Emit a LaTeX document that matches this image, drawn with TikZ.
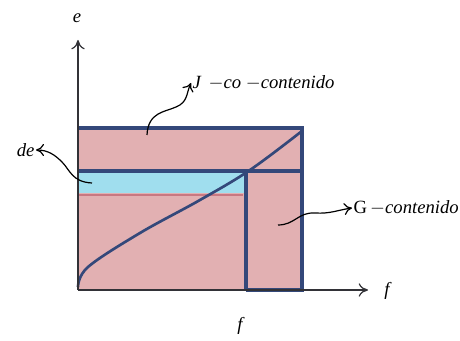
\documentclass[tikz,border=0pt]{standalone}
\usepackage{fontspec}
\setmainfont{Liberation Serif}
\usetikzlibrary{arrows.meta}
\definecolor{pinkfill}{RGB}{226,176,178}
\definecolor{bluefill}{RGB}{160,222,238}
\definecolor{navy}{RGB}{52,72,122}
\definecolor{axisgray}{RGB}{50,50,55}
\tikzset{
  axis/.style={draw=axisgray, line width=0.9pt, -{To[length=7pt,width=10pt]}},
  frame/.style={draw=navy, line width=2.4pt},
  pointer/.style={draw=black, line width=0.9pt, -{To[length=6pt,width=9pt]}},
  lbl/.style={font=\itshape\fontsize{14}{16}\selectfont, inner sep=1pt}
}
\begin{document}
\begin{tikzpicture}[x=0.75pt,y=-0.75pt]
\useasboundingbox (0,0) rectangle (460,341);
% fills
\fill[pinkfill] (78,128) rectangle (302,290);
\fill[bluefill] (78,171) rectangle (246,193);
\draw[draw={rgb,255:red,200;green,120;blue,130}, line width=0.9pt] (78,195) -- (243,195);
% frame
\draw[frame] (78,128) -- (302,128) -- (302,290) -- (246,290);
\draw[frame] (78,171) -- (302,171);
\draw[frame, line width=3pt] (246,171) -- (246,290);
% curve
\draw[navy, line width=2pt] plot[smooth, tension=0.6] coordinates {(78,287) (88,267) (140,233) (200,200) (250,170) (302,131)};
% axes
\coordinate (O) at (78,290);
\coordinate (ytop) at (78,40);
\coordinate (xend) at (368,290);
\draw[axis] (O) -- (ytop);
\draw[axis] (O) -- (xend);
\node[lbl] (e) at (77,18) {e};
\node[lbl] (fx) at (387,291) {f};
\node[lbl] (fb) at (240,326) {f};
% labels
\node[lbl, anchor=west] (J) at (191,83) {J \,$-$co $-$contenido};
\node[lbl, anchor=east] (de) at (36,150) {de};
\node[lbl, anchor=west] (G) at (352,208) {\upshape G\,\itshape $-$contenido};
\coordinate (Jstart) at (147,135);
\coordinate (destart) at (92,183);
\coordinate (Gstart) at (278,225);
\draw[pointer] (Jstart) .. controls (148,112) and (165,112) .. (176,107) .. controls (188,102) and (186,94) .. (J.west);
\draw[pointer] (destart) .. controls (72,182) and (70,170) .. (62,162) .. controls (55,155) and (48,150) .. (de.east);
\draw[pointer] (Gstart) .. controls (295,225) and (298,212) .. (315,213) .. controls (330,214) and (338,210) .. (G.west);
\end{tikzpicture}
\end{document}
